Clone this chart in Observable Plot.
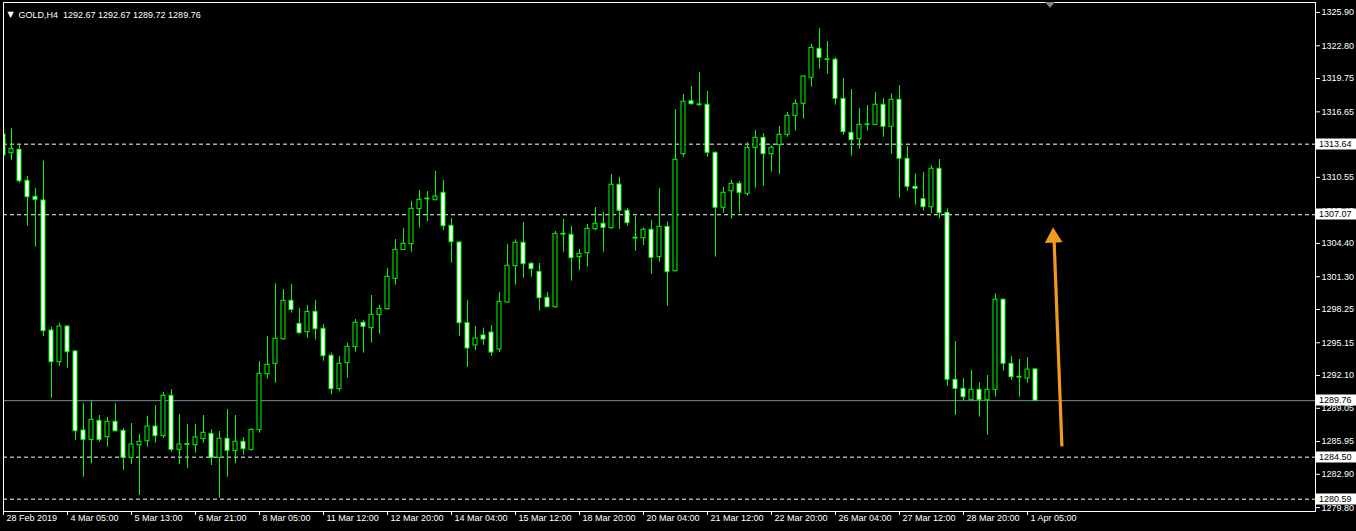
<!DOCTYPE html>
<html><head><meta charset="utf-8">
<script src="https://cdn.jsdelivr.net/npm/d3@7"></script>
<script src="https://cdn.jsdelivr.net/npm/@observablehq/plot@0.6"></script>
<style>
html,body{margin:0;padding:0;background:#000;overflow:hidden;}
#chart svg{display:block}
</style></head><body><div id="chart"></div>
<script>
// GOLD H4 candles, index 0 = 28 Feb 2019 21:00
const opens = [1314.54,1312.80,1313.12,1310.23,1308.74,1308.40,1296.29,1293.34,1296.66,1294.34,
1286.98,1286.11,1287.88,1286.36,1287.79,1286.95,1284.44,1285.61,1285.98,1287.35,
1286.45,1290.21,1285.18,1285.64,1285.61,1286.17,1286.67,1284.44,1286.21,1285.07,
1285.93,1285.18,1287.04,1292.22,1293.19,1295.48,1299.06,1296.91,1296.13,1298.03,
1296.45,1293.94,1290.83,1293.25,1294.74,1297.01,1296.51,1297.72,1298.27,1301.10,
1303.80,1304.33,1307.59,1308.50,1308.42,1309.11,1306.04,1304.48,1296.97,1294.90,
1295.83,1296.10,1294.52,1298.90,1302.28,1304.46,1302.50,1301.75,1299.34,1298.46,
1305.22,1305.20,1303.12,1303.49,1305.72,1306.23,1305.82,1309.86,1307.44,1304.85,
1304.89,1305.67,1303.12,1305.94,1301.81,1312.71,1317.64,1317.27,1317.31,1312.84,
1307.72,1309.26,1309.95,1309.02,1313.30,1314.23,1312.71,1313.54,1314.51,1316.28,
1317.40,1319.82,1322.52,1321.48,1321.50,1317.86,1314.70,1314.10,1315.42,1315.44,
1317.31,1315.26,1317.77,1312.28,1309.67,1308.52,1307.77,1311.35,1307.25,1291.70,
1290.86,1289.80,1290.77,1289.80,1290.77,1299.16,1293.19,1291.90,1291.82,1292.67];
const highs = [1315.19,1315.07,1313.58,1310.63,1309.51,1312.06,1296.60,1296.97,1296.76,1294.43,
1289.47,1289.68,1288.38,1288.19,1289.47,1287.17,1287.63,1286.61,1288.31,1289.31,
1290.52,1290.80,1288.47,1287.54,1287.54,1288.38,1287.07,1286.89,1288.94,1288.38,
1286.33,1287.14,1293.40,1295.73,1300.64,1300.11,1300.57,1298.34,1298.62,1299.08,
1296.85,1294.18,1293.87,1295.11,1297.32,1297.22,1299.55,1298.62,1302.06,1304.76,
1305.79,1308.30,1309.33,1309.23,1311.10,1310.26,1306.72,1304.58,1299.08,1296.66,
1296.51,1296.76,1299.83,1304.30,1304.74,1306.35,1302.60,1302.53,1299.83,1305.51,
1306.63,1305.97,1303.83,1306.16,1307.74,1307.28,1310.82,1310.54,1307.65,1306.91,
1305.82,1306.53,1309.51,1306.41,1316.87,1318.27,1319.01,1320.31,1318.54,1312.90,
1309.61,1310.26,1310.16,1313.80,1314.91,1314.63,1313.49,1315.29,1316.59,1317.77,
1320.03,1322.92,1324.41,1323.20,1321.68,1319.75,1318.73,1316.96,1317.24,1318.45,
1317.89,1318.33,1319.10,1313.42,1310.88,1311.00,1311.66,1312.21,1307.62,1295.27,
1291.82,1292.57,1291.42,1292.10,1299.71,1299.20,1293.87,1293.59,1293.78,1292.67];
const lows = [1312.40,1312.12,1310.01,1306.00,1304.05,1295.73,1289.99,1292.94,1292.78,1286.05,
1282.63,1283.88,1285.90,1285.43,1286.82,1283.26,1283.81,1280.93,1285.43,1285.80,
1286.26,1284.96,1283.81,1283.44,1284.87,1285.80,1283.72,1280.68,1282.63,1283.88,
1284.68,1285.05,1286.73,1291.76,1291.38,1295.39,1297.90,1295.95,1295.58,1295.39,
1293.43,1290.30,1290.60,1291.85,1294.27,1294.18,1295.11,1295.95,1298.20,1300.51,
1303.75,1303.58,1305.82,1306.44,1308.37,1305.60,1302.56,1295.73,1292.85,1294.43,
1294.90,1293.87,1294.24,1298.84,1300.51,1301.16,1301.25,1298.09,1298.40,1298.37,
1303.58,1300.88,1301.88,1302.19,1305.57,1303.58,1305.70,1305.70,1306.00,1303.65,
1304.21,1301.53,1302.65,1298.55,1301.75,1312.43,1317.27,1317.18,1312.43,1303.12,
1307.21,1306.66,1307.21,1308.80,1309.54,1309.73,1311.03,1310.84,1314.29,1314.85,
1315.97,1318.94,1320.62,1320.16,1317.27,1314.48,1312.52,1313.17,1314.85,1315.38,
1314.29,1312.71,1308.61,1309.26,1307.96,1307.40,1307.16,1306.69,1291.11,1288.38,
1289.77,1289.70,1288.22,1286.52,1290.08,1292.50,1291.64,1290.08,1291.38,1289.72];
const closes = [1312.59,1313.21,1310.19,1308.70,1308.46,1296.23,1293.34,1296.66,1294.27,1286.91,
1286.11,1287.98,1286.11,1287.79,1286.91,1284.44,1285.68,1285.93,1287.35,1286.45,
1290.21,1285.18,1285.68,1285.72,1286.33,1286.77,1284.44,1286.21,1285.09,1285.93,
1285.24,1287.04,1292.26,1293.10,1295.52,1299.06,1298.22,1296.04,1298.03,1296.41,
1293.90,1290.83,1293.19,1294.77,1297.01,1296.64,1297.75,1298.31,1301.29,1303.80,
1304.36,1307.62,1308.46,1308.58,1308.77,1306.00,1304.51,1296.97,1294.62,1295.55,
1295.45,1294.24,1298.96,1302.32,1304.46,1302.47,1302.00,1299.30,1298.46,1305.29,
1305.30,1303.02,1303.43,1305.76,1306.23,1305.85,1309.86,1307.44,1306.28,1304.93,
1305.67,1303.06,1305.94,1301.72,1312.19,1317.59,1317.36,1317.35,1312.84,1307.72,
1309.11,1309.95,1309.11,1313.30,1314.23,1312.71,1313.30,1314.51,1316.28,1317.40,
1319.94,1322.61,1321.68,1321.54,1317.86,1314.76,1314.01,1315.44,1315.48,1317.31,
1315.26,1317.77,1312.28,1309.67,1309.48,1307.77,1311.35,1307.21,1291.70,1290.86,
1290.08,1290.77,1289.80,1290.77,1299.16,1293.19,1291.94,1291.98,1292.65,1289.76];

// time-axis labels, one every 8 candles (index 0, 8, 16, ...)
const timeLabels = ["28 Feb 2019","4 Mar 05:00","5 Mar 13:00","6 Mar 21:00","8 Mar 05:00",
"11 Mar 12:00","12 Mar 20:00","14 Mar 04:00","15 Mar 12:00","18 Mar 20:00","20 Mar 04:00",
"21 Mar 12:00","22 Mar 20:00","26 Mar 04:00","27 Mar 12:00","28 Mar 20:00","1 Apr 05:00"];
const timeLabelStep = 8;

const priceTicks = [1325.90,1322.80,1319.75,1316.65,1313.60,1310.55,1307.45,1304.40,1301.30,
1298.25,1295.15,1292.10,1289.05,1285.95,1282.90,1279.80];
const levelLines = [1313.64, 1307.07, 1284.50, 1280.59];
const bidPrice = 1289.76;
const titleSymbol = "GOLD,H4";
const titleValues = "1292.67 1292.67 1289.72 1289.76";

// orange arrow annotation (candle index, price)
const arrowTail = {x: 132.3, y: 1285.5};
const arrowBase = {x: 131.3, y: 1305.2};
const arrowHead = {x: 131.25, y: 1304.95};
const shiftMarkerIndex = 130.9;

const candles = opens.map((o, i) => ({i, o, h: highs[i], l: lows[i], c: closes[i]}));
const tickIdx = timeLabels.map((_, k) => k * timeLabelStep);

const GREEN = "#00ff00";
const FONT = "Liberation Sans, Arial, sans-serif";
const chart = Plot.plot({
  width: 1356, height: 531,
  marginLeft: 3, marginRight: 41, marginTop: 2, marginBottom: 20,
  style: {background: "#000", color: "#fff", fontFamily: FONT, fontSize: "9px"},
  x: {domain: [0, 164], label: null},
  y: {domain: [1279.44, 1326.83], label: null},
  color: {type: "identity"},
  marks: [
    Plot.ruleY(levelLines, {stroke: "#fff", strokeDasharray: "4,3"}),
    Plot.ruleY([bidPrice], {stroke: "#7d8a99"}),
    Plot.ruleX(candles, {x: "i", y1: "l", y2: "h", stroke: GREEN, clip: true}),
    Plot.rect(candles, {x1: d => d.i - 0.25, x2: d => d.i + 0.25, y1: "o", y2: "c",
      fill: d => d.c < d.o ? "#fff" : "#000", stroke: GREEN, clip: true}),
    Plot.link([0], {x1: () => arrowTail.x, y1: () => arrowTail.y, x2: () => arrowBase.x, y2: () => arrowBase.y,
      stroke: "#f39a1e", strokeWidth: 3.2}),
    Plot.dot([0], {x: () => arrowHead.x, y: () => arrowHead.y, symbol: "triangle", r: 5.6, rotate: -2.5,
      fill: "#f39a1e", stroke: "#f39a1e"}),
    Plot.axisY(priceTicks, {anchor: "right", tickSize: 4, tickPadding: 2, tickFormat: d => d.toFixed(2),
      color: "#fff", fontSize: 9, label: null}),
    Plot.axisX(tickIdx, {anchor: "bottom", tickSize: 4, tickFormat: () => "", color: "#fff", label: null}),
    Plot.text(tickIdx, {x: d => d, text: (d, k) => timeLabels[k], frameAnchor: "bottom", dy: 9, dx: 3,
      textAnchor: "start", fill: "#fff", fontSize: 9}),
    Plot.frame({stroke: "#fff"}),
    Plot.text(["\u25BC"], {frameAnchor: "top-left", dx: 4, dy: 9, fill: "#fff", fontSize: 8,
      fontFamily: "DejaVu Sans", textAnchor: "start"}),
    Plot.text([titleSymbol + "  " + titleValues], {frameAnchor: "top-left", dx: 15, dy: 9, fill: "#fff",
      fontSize: 9, textAnchor: "start"})
  ]
});
document.getElementById("chart").appendChild(chart);

// price label boxes on the right axis
const svg = d3.select(chart);
const ys = chart.scale("y"), xs = chart.scale("x");
const boxes = svg.append("g").attr("text-anchor", "start");
for (const v of [...levelLines, bidPrice]) {
  const yv = Math.round(ys.apply(v));
  boxes.append("rect").attr("x", 1316).attr("y", yv - 5.5).attr("width", 40).attr("height", 11).attr("fill", "#fff");
  boxes.append("text").attr("x", 1319).attr("y", yv).attr("dy", "0.35em").attr("fill", "#000")
    .attr("text-anchor", "start").attr("font-size", 9).attr("font-family", FONT).text(v.toFixed(2));
}
// chart shift marker
const sx = Math.round(xs.apply(shiftMarkerIndex));
svg.append("path").attr("d", `M${sx - 5},2L${sx + 5},2L${sx},8Z`).attr("fill", "#808080");
</script></body></html>
